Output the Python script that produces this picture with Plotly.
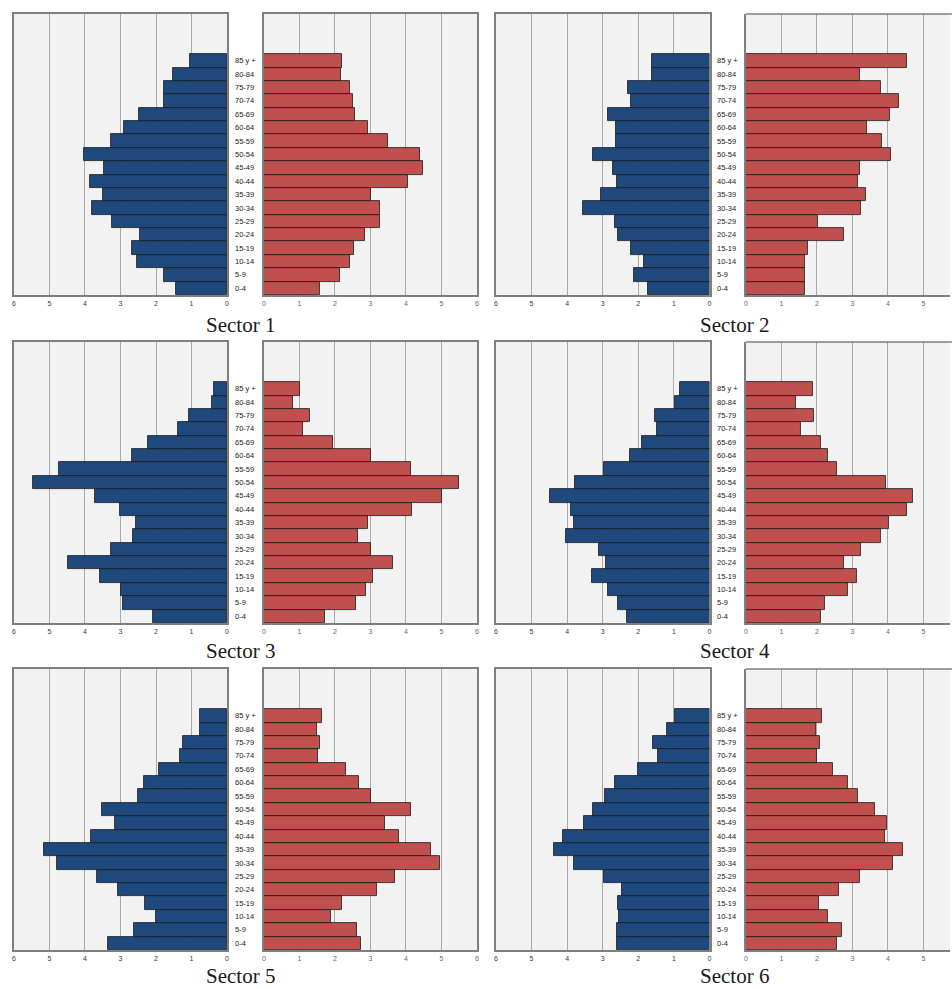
import plotly.graph_objects as go

ages = ["0-4", "5-9", "10-14", "15-19", "20-24", "25-29", "30-34", "35-39", "40-44",
        "45-49", "50-54", "55-59", "60-64", "65-69", "70-74", "75-79", "80-84", "85 y +"]

sector_names = ["Sector 1", "Sector 2", "Sector 3", "Sector 4", "Sector 5", "Sector 6"]

# values listed from 0-4 up to 85 y +
s1_blue = [1.44, 1.78, 2.55, 2.67, 2.45, 3.25, 3.81, 3.50, 3.85, 3.47, 4.04, 3.28, 2.89, 2.48, 1.78, 1.78, 1.53, 1.05]
s1_red = [1.58, 2.13, 2.43, 2.53, 2.85, 3.26, 3.26, 3.00, 4.06, 4.47, 4.40, 3.49, 2.94, 2.57, 2.50, 2.42, 2.17, 2.21]
s2_blue = [1.73, 2.12, 1.85, 2.20, 2.57, 2.67, 3.55, 3.05, 2.59, 2.71, 3.27, 2.62, 2.62, 2.85, 2.20, 2.28, 1.62, 1.62]
s2_red = [1.65, 1.65, 1.65, 1.74, 2.76, 2.04, 3.25, 3.38, 3.15, 3.22, 4.09, 3.83, 3.41, 4.06, 4.32, 3.81, 3.22, 4.54]
s3_blue = [2.09, 2.93, 3.00, 3.57, 4.47, 3.26, 2.65, 2.57, 3.02, 3.71, 5.46, 4.72, 2.67, 2.22, 1.39, 1.06, 0.43, 0.37]
s3_red = [1.73, 2.60, 2.87, 3.06, 3.63, 3.02, 2.64, 2.94, 4.17, 5.01, 5.48, 4.14, 3.02, 1.95, 1.09, 1.29, 0.82, 1.02]
s4_blue = [2.32, 2.57, 2.85, 3.29, 2.91, 3.10, 4.04, 3.82, 3.89, 4.47, 3.78, 2.96, 2.23, 1.91, 1.47, 1.52, 0.96, 0.84]
s4_red = [2.10, 2.23, 2.86, 3.13, 2.77, 3.25, 3.79, 4.03, 4.53, 4.69, 3.93, 2.57, 2.32, 2.10, 1.56, 1.91, 1.42, 1.89]
s5_blue = [3.35, 2.62, 2.01, 2.31, 3.07, 3.67, 4.78, 5.16, 3.82, 3.15, 3.52, 2.51, 2.33, 1.92, 1.32, 1.25, 0.75, 0.75]
s5_red = [2.73, 2.61, 1.88, 2.20, 3.17, 3.69, 4.96, 4.70, 3.81, 3.42, 4.15, 3.02, 2.68, 2.32, 1.51, 1.57, 1.50, 1.64]
s6_blue = [2.59, 2.61, 2.54, 2.57, 2.46, 2.96, 3.82, 4.36, 4.11, 3.52, 3.27, 2.95, 2.65, 2.01, 1.44, 1.60, 1.19, 0.97]
s6_red = [2.56, 2.69, 2.31, 2.05, 2.61, 3.21, 4.13, 4.43, 3.92, 3.96, 3.62, 3.15, 2.86, 2.45, 2.01, 2.07, 1.96, 2.13]

blue_series = [s1_blue, s2_blue, s3_blue, s4_blue, s5_blue, s6_blue]
red_series = [s1_red, s2_red, s3_red, s4_red, s5_red, s6_red]
x_ticks = [0, 1, 2, 3, 4, 5, 6]

W, H = 952, 989
BLUE = "#1f497d"
RED = "#c0504d"
EDGE = "#1c1c1c"
BORDER = "#7f7f7f"
GRID = "#a9a9a9"
BG = "#f2f2f2"

# pixel geometry of panels
col_left = [(12, 226), (496, 710.5)]
col_right = [(263, 477), (747, 961)]
row_y = [(14, 295), (342, 623), (669, 950)]
title_x = [240, 736]
title_y = [325, 651, 976]

fig = go.Figure()
layout = dict(width=W, height=H, margin=dict(l=0, r=0, t=0, b=0),
              paper_bgcolor="white", plot_bgcolor=BG, showlegend=False,
              bargap=0, barmode="overlay", annotations=[], shapes=[])

ax = 0
for i in range(6):
    r, c = divmod(i, 2)
    y0, y1 = row_y[r]
    ydom = [1 - y1 / H, 1 - y0 / H]
    for side in ("L", "R"):
        ax += 1
        xa = "x" if ax == 1 else f"x{ax}"
        ya = "y" if ax == 1 else f"y{ax}"
        xkey = "xaxis" if ax == 1 else f"xaxis{ax}"
        ykey = "yaxis" if ax == 1 else f"yaxis{ax}"
        if side == "L":
            px0, px1 = col_left[c]
            vals, color = blue_series[i], BLUE
            xrange = [6, 0]
            tcol = "#3a3a3a"
        else:
            px0, px1 = col_right[c]
            vals, color = red_series[i], RED
            tcol = "#6a6a6a"
            if px1 > W:
                xrange = [0, 6 * (W - px0) / (px1 - px0)]
                px1 = W
            else:
                xrange = [0, 6]
        mirror = not (side == "R" and c == 1)
        fig.add_trace(go.Bar(x=vals, y=ages, orientation="h", xaxis=xa, yaxis=ya,
                             marker=dict(color=color, line=dict(color=EDGE, width=0.8)),
                             hoverinfo="x+y"))
        layout[xkey] = dict(domain=[px0 / W, px1 / W], range=xrange, anchor=ya,
                            tickvals=x_ticks, ticktext=[str(t) for t in x_ticks],
                            showgrid=True, gridcolor=GRID, gridwidth=1, zeroline=False,
                            showline=True, linecolor=BORDER, linewidth=1.5,
                            mirror=mirror, ticks="outside", ticklen=1,
                            tickcolor="rgba(0,0,0,0)",
                            tickfont=dict(family="Arial", size=7, color=tcol))
        layout[ykey] = dict(domain=ydom, anchor=xa, type="category",
                            categoryorder="array", categoryarray=ages,
                            range=[-0.5, 20.5], showticklabels=False, ticks="",
                            showgrid=False, zeroline=False,
                            showline=True, linecolor=BORDER, linewidth=1.5,
                            mirror=mirror)
        if not mirror:
            layout["shapes"].append(dict(type="line", xref="paper", yref="paper",
                                         x0=px0 / W, x1=1.02, y0=ydom[1], y1=ydom[1],
                                         line=dict(color=BORDER, width=1.5)))
        if side == "L":
            for a in ages:
                layout["annotations"].append(dict(
                    x=(col_left[c][1] + 6) / W, xref="paper", y=a, yref=ya,
                    text=a, showarrow=False, xanchor="left", yanchor="middle",
                    font=dict(family="Arial", size=7.5, color="#222222")))
    layout["annotations"].append(dict(
        x=title_x[c] / W, xref="paper", y=1 - title_y[r] / H, yref="paper",
        text=sector_names[i], showarrow=False, xanchor="center", yanchor="middle",
        borderpad=0,
        font=dict(family="Liberation Serif", size=21, color="#1a1a1a")))

fig.update_layout(**layout)
fig.write_html("out.html", config={"displayModeBar": False},
               post_script="document.body.style.margin='0';"
                           "document.body.style.overflow='hidden';")
